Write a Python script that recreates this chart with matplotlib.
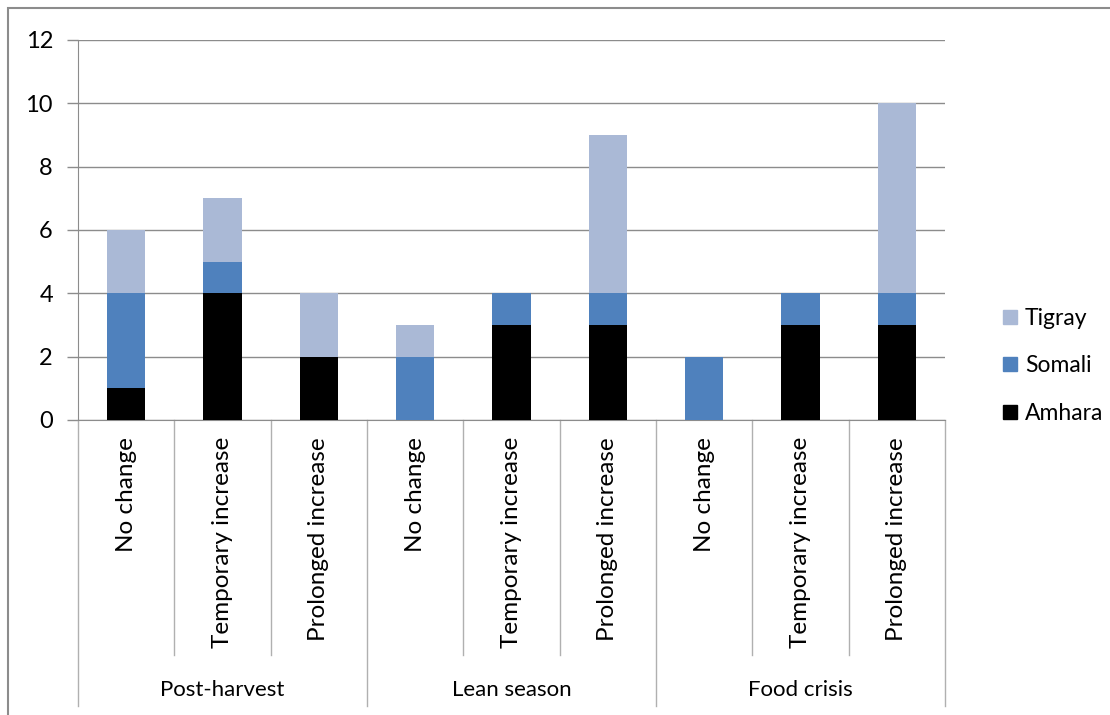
import matplotlib.pyplot as plt
import numpy as np
from matplotlib.patches import Rectangle
from matplotlib.lines import Line2D

plt.rcParams['font.family'] = ['Lato', 'DejaVu Sans']

# Данные
groups = ['Post-harvest', 'Lean season', 'Food crisis']
subcats = ['No change', 'Temporary increase', 'Prolonged increase']
amhara = [1, 4, 2, 0, 3, 3, 0, 3, 3]
somali = [3, 1, 0, 2, 1, 1, 2, 1, 1]
tigray = [2, 2, 2, 1, 0, 5, 0, 0, 6]
series = ['Amhara', 'Somali', 'Tigray']
colors = ['#000000', '#4F81BD', '#AAB9D6']
y_ticks = [0, 2, 4, 6, 8, 10, 12]

W, H = 1110, 715
fig = plt.figure(figsize=(W / 100, H / 100), dpi=100)

# Рамка диаграммы
fig.patches.append(Rectangle((8 / W, -0.1), 1.2, 1 - 8 / H + 0.1, transform=fig.transFigure,
                             fill=False, edgecolor='#8c8c8c', linewidth=1.5))

left, right, top, bottom = 78, 945, 40, 420
ax = fig.add_axes([left / W, 1 - bottom / H, (right - left) / W, (bottom - top) / H])

n = len(amhara)
x = np.arange(n)
bottoms = np.zeros(n)
for name, vals, c in zip(series, [amhara, somali, tigray], colors):
    ax.bar(x, vals, width=0.4, bottom=bottoms, color=c, label=name, zorder=3)
    bottoms += np.array(vals)

ax.set_xlim(-0.5, n - 0.5)
ax.set_ylim(0, 12)
ax.set_yticks(y_ticks)
ax.tick_params(axis='y', length=8, color='#8c8c8c', labelsize=17, pad=10, width=1)
ax.set_xticks([])
for s in ['top', 'right']:
    ax.spines[s].set_visible(False)
ax.spines['left'].set_color('#8c8c8c')
ax.spines['bottom'].set_color('#8c8c8c')
ax.grid(axis='y', color='#8c8c8c', linewidth=1, zorder=0)

# Многоуровневая ось категорий
trans = ax.get_xaxis_transform()
inner_len = (655 - bottom) / (bottom - top)
outer_len = (706 - bottom) / (bottom - top)
for i in range(n + 1):
    xb = i - 0.5
    ln = outer_len if i % 3 == 0 else inner_len
    ax.plot([xb, xb], [0, -ln], transform=trans, color='#b0b0b0', lw=1, clip_on=False)

label_top = -(437 - bottom) / (bottom - top)
for i in range(n):
    ax.text(i, label_top, subcats[i % 3], transform=trans, rotation=90,
            ha='center', va='top', fontsize=17.5)

group_y = -(690 - bottom) / (bottom - top)
for g, name in enumerate(groups):
    ax.text(3 * g + 1, group_y, name, transform=trans, ha='center', va='center', fontsize=16)

# Легенда
handles = [Line2D([], [], marker='s', linestyle='none', markersize=10,
                  markerfacecolor=c, markeredgecolor=c) for c in colors[::-1]]
fig.legend(handles, series[::-1], loc='center left', bbox_to_anchor=(978 / W, 1 - 366 / H),
           frameon=False, fontsize=16.5, handletextpad=0.15, labelspacing=1.15, handlelength=1)

plt.savefig('out.png', dpi=100)
plt.close(fig)
